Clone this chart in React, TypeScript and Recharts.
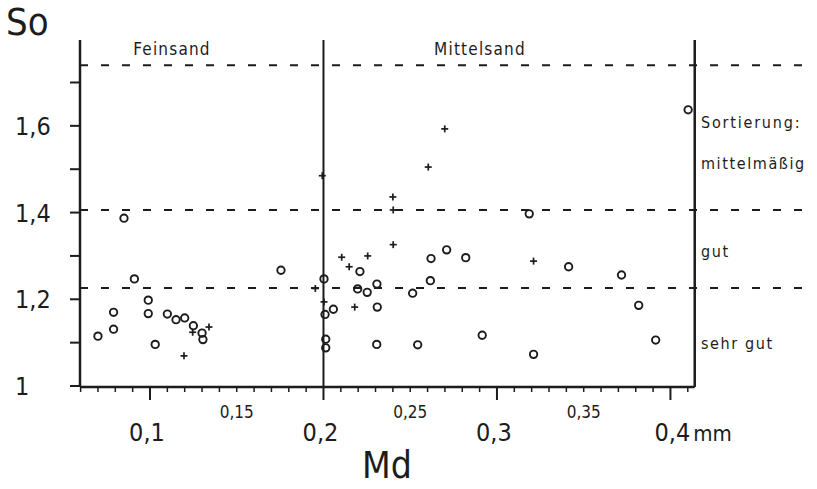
import { ScatterChart, Scatter, XAxis, YAxis, ReferenceLine } from 'recharts'

// Md (mm) / So pairs
const circleMd = [
  0.070, 0.079, 0.079, 0.085, 0.091, 0.099, 0.099, 0.103, 0.110, 0.115, 0.120, 0.125, 0.130, 0.1305,
  0.1755, 0.2003, 0.2009, 0.2057, 0.2013, 0.2013, 0.221, 0.2197, 0.2252, 0.2308, 0.231, 0.2307,
  0.2514, 0.2543, 0.262, 0.2616, 0.271, 0.282, 0.2915, 0.3186, 0.3211, 0.3413, 0.3718, 0.3817,
  0.3915, 0.4102,
]
const circleSo = [
  1.115, 1.131, 1.170, 1.387, 1.247, 1.198, 1.167, 1.096, 1.166, 1.153, 1.157, 1.139, 1.122, 1.107,
  1.267, 1.247, 1.165, 1.177, 1.108, 1.088, 1.264, 1.224, 1.216, 1.235, 1.182, 1.096,
  1.214, 1.095, 1.294, 1.243, 1.314, 1.296, 1.117, 1.397, 1.073, 1.275, 1.256, 1.186,
  1.106, 1.637,
]
const crossMd = [
  0.1246, 0.134, 0.1196, 0.1953, 0.1993, 0.2003, 0.2105, 0.2148, 0.218, 0.2255, 0.240, 0.2402,
  0.2402, 0.2604, 0.2699, 0.3211,
]
const crossSo = [
  1.124, 1.136, 1.0695, 1.225, 1.485, 1.194, 1.297, 1.275, 1.182, 1.300, 1.436, 1.406,
  1.326, 1.505, 1.593, 1.288,
]

// class boundaries (Sortierung)
const sortingLimits = [1.226, 1.406, 1.74]
const grainBoundary = 0.2
const rightEdge = 0.414

const xTicks = [
  0.06, 0.07, 0.08, 0.09, 0.1, 0.11, 0.12, 0.13, 0.14, 0.15, 0.16, 0.17, 0.18, 0.19, 0.2,
  0.21, 0.22, 0.23, 0.24, 0.25, 0.26, 0.27, 0.28, 0.29, 0.3, 0.31, 0.32, 0.33, 0.34, 0.35,
  0.36, 0.37, 0.38, 0.39, 0.4, 0.41,
]
const xMajor = [0.1, 0.2, 0.3, 0.4]
const xMinorLabels = [0.15, 0.25, 0.35]
const yTicks = [1, 1.1, 1.2, 1.3, 1.4, 1.5, 1.6, 1.7]
const yLabels = [1, 1.2, 1.4, 1.6]

const X_MIN = 0.05965
const X_MAX = 0.4816
const Y_MIN = 0.9977
const Y_MAX = 1.798

const FONT = '"DejaVu Sans Condensed", "DejaVu Sans", sans-serif'
const INK = '#1c1c1c'

const circles = circleMd.map((md, i) => ({ md, so: circleSo[i] }))
const crosses = crossMd.map((md, i) => ({ md, so: crossSo[i] }))

const same = (a: number, b: number) => Math.abs(a - b) < 1e-6
const comma = (v: number) => (same(v, 1) ? '1' : String(v).replace('.', ','))

function XTick(props: any) {
  const { x, y, payload } = props
  const v = payload.value as number
  const major = xMajor.some((m) => same(m, v))
  const small = xMinorLabels.some((m) => same(m, v))
  return (
    <g>
      <line x1={x} x2={x} y1={y} y2={y + (major ? 13 : 5)} stroke={INK} strokeWidth={major ? 2 : 1.5} />
      {major && (
        <text
          x={same(v, 0.4) ? x - 16 : x - 3}
          y={y + 54}
          textAnchor={same(v, 0.4) ? 'start' : 'middle'}
          fontSize={25}
          fontFamily={FONT}
          fill={INK}
        >
          {same(v, 0.4) ? (
            <>
              0,4<tspan dx={3} fontSize={22}>mm</tspan>
            </>
          ) : (
            comma(v)
          )}
        </text>
      )}
      {small && (
        <text x={x} y={y + 31} textAnchor="middle" fontSize={17} fontFamily={FONT} fill={INK}>
          {comma(v)}
        </text>
      )}
    </g>
  )
}

function YTick(props: any) {
  const { x, y, payload } = props
  const v = payload.value as number
  if (!yLabels.some((m) => same(m, v))) return <g />
  return (
    <text x={x - 55} y={y + 9} textAnchor="start" fontSize={25} fontFamily={FONT} fill={INK}>
      {comma(v)}
    </text>
  )
}

const Ring = (p: any) => <circle cx={p.cx} cy={p.cy} r={3.7} fill="none" stroke={INK} strokeWidth={1.9} />
const Plus = (p: any) => (
  <g stroke={INK} strokeWidth={1.7}>
    <line x1={p.cx - 3.5} x2={p.cx + 3.5} y1={p.cy} y2={p.cy} />
    <line x1={p.cx} x2={p.cx} y1={p.cy - 3.5} y2={p.cy + 3.5} />
  </g>
)

const label = (x: number, y: number, txt: string, size: number, anchor = 'start', ls = 0) => (
  <text x={x} y={y} fontSize={size} fontFamily={FONT} fill={INK} textAnchor={anchor} letterSpacing={ls}>
    {txt}
  </text>
)

export default function App() {
  return (
    <div style={{ position: 'absolute', left: 0, top: 0, width: 817, height: 489, background: '#fff' }}>
      <ScatterChart width={817} height={489} margin={{ top: 40, right: 5, bottom: 42, left: 0 }}>
        <XAxis
          type="number"
          dataKey="md"
          domain={[X_MIN, X_MAX]}
          allowDataOverflow
          ticks={xTicks}
          interval={0}
          axisLine={false}
          tickLine={false}
          tickSize={0}
          tickMargin={0}
          height={60}
          tick={<XTick />}
        />
        <YAxis
          type="number"
          dataKey="so"
          domain={[Y_MIN, Y_MAX]}
          allowDataOverflow
          ticks={yTicks}
          interval={0}
          width={80}
          tickSize={10}
          tickMargin={0}
          axisLine={{ stroke: INK, strokeWidth: 2.5 }}
          tickLine={{ stroke: INK, strokeWidth: 2 }}
          tick={<YTick />}
        />
        {sortingLimits.map((s) => (
          <ReferenceLine
            key={s}
            segment={[{ x: X_MIN, y: s }, { x: 0.48, y: s }]}
            stroke={INK}
            strokeWidth={2}
            strokeDasharray="8 13"
          />
        ))}
        <ReferenceLine segment={[{ x: X_MIN, y: Y_MIN }, { x: rightEdge, y: Y_MIN }]} stroke={INK} strokeWidth={2.5} />
        <ReferenceLine x={grainBoundary} stroke={INK} strokeWidth={2} />
        <ReferenceLine x={rightEdge} stroke={INK} strokeWidth={2.5} />
        <Scatter data={circles} shape={<Ring />} isAnimationActive={false} />
        <Scatter data={crosses} shape={<Plus />} isAnimationActive={false} />
      </ScatterChart>
      <svg width={817} height={489} style={{ position: 'absolute', left: 0, top: 0, pointerEvents: 'none' }}>
        {label(6, 35, 'So', 38)}
        {label(387, 478, 'Md', 37, 'middle')}
        {label(172, 55, 'Feinsand', 17, 'middle', 1.2)}
        {label(480, 55, 'Mittelsand', 17, 'middle', 1.2)}
        {label(701, 128, 'Sortierung:', 16, 'start', 1.8)}
        {label(701, 169, 'mittelmäßig', 16, 'start', 1.6)}
        {label(701, 257, 'gut', 16, 'start', 1.6)}
        {label(701, 349, 'sehr gut', 16, 'start', 1.6)}
      </svg>
    </div>
  )
}
